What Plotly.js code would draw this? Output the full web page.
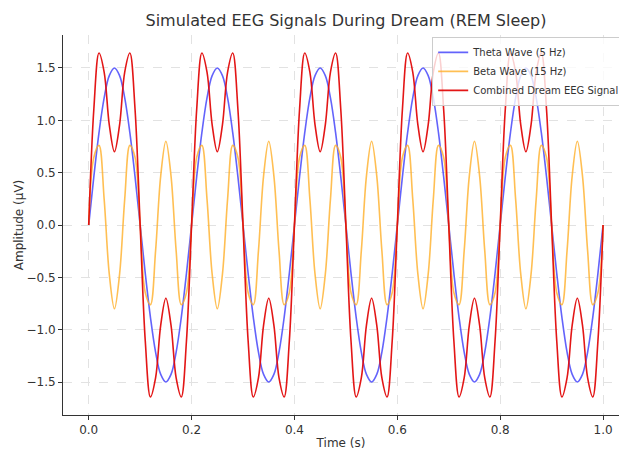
<!DOCTYPE html>
<html>
<head>
<meta charset="utf-8">
<script src="https://cdn.plot.ly/plotly-3.0.1.min.js"></script>
<style>html,body{margin:0;padding:0;background:#fff;}#chart{width:619px;height:453px;}</style>
</head>
<body>
<div id="chart"></div>
<script>
const time = [
0.00,0.01,0.02,0.03,0.04,0.05,0.06,0.07,0.08,0.09,0.10,0.11,0.12,0.13,0.14,0.15,0.16,0.17,0.18,0.19,
0.20,0.21,0.22,0.23,0.24,0.25,0.26,0.27,0.28,0.29,0.30,0.31,0.32,0.33,0.34,0.35,0.36,0.37,0.38,0.39,
0.40,0.41,0.42,0.43,0.44,0.45,0.46,0.47,0.48,0.49,0.50,0.51,0.52,0.53,0.54,0.55,0.56,0.57,0.58,0.59,
0.60,0.61,0.62,0.63,0.64,0.65,0.66,0.67,0.68,0.69,0.70,0.71,0.72,0.73,0.74,0.75,0.76,0.77,0.78,0.79,
0.80,0.81,0.82,0.83,0.84,0.85,0.86,0.87,0.88,0.89,0.90,0.91,0.92,0.93,0.94,0.95,0.96,0.97,0.98,0.99,
1.00];
const thetaWave = [
0,0.464,0.882,1.214,1.427,1.5,1.427,1.214,0.882,0.464,0,-0.464,-0.882,-1.214,-1.427,-1.5,-1.427,-1.214,-0.882,-0.464,
0,0.464,0.882,1.214,1.427,1.5,1.427,1.214,0.882,0.464,0,-0.464,-0.882,-1.214,-1.427,-1.5,-1.427,-1.214,-0.882,-0.464,
0,0.464,0.882,1.214,1.427,1.5,1.427,1.214,0.882,0.464,0,-0.464,-0.882,-1.214,-1.427,-1.5,-1.427,-1.214,-0.882,-0.464,
0,0.464,0.882,1.214,1.427,1.5,1.427,1.214,0.882,0.464,0,-0.464,-0.882,-1.214,-1.427,-1.5,-1.427,-1.214,-0.882,-0.464,
0,0.464,0.882,1.214,1.427,1.5,1.427,1.214,0.882,0.464,0,-0.464,-0.882,-1.214,-1.427,-1.5,-1.427,-1.214,-0.882,-0.464,
0];
const betaWave = [
0,0.647,0.761,0.247,-0.47,-0.8,-0.47,0.247,0.761,0.647,0,-0.647,-0.761,-0.247,0.47,0.8,0.47,-0.247,-0.761,-0.647,
0,0.647,0.761,0.247,-0.47,-0.8,-0.47,0.247,0.761,0.647,0,-0.647,-0.761,-0.247,0.47,0.8,0.47,-0.247,-0.761,-0.647,
0,0.647,0.761,0.247,-0.47,-0.8,-0.47,0.247,0.761,0.647,0,-0.647,-0.761,-0.247,0.47,0.8,0.47,-0.247,-0.761,-0.647,
0,0.647,0.761,0.247,-0.47,-0.8,-0.47,0.247,0.761,0.647,0,-0.647,-0.761,-0.247,0.47,0.8,0.47,-0.247,-0.761,-0.647,
0,0.647,0.761,0.247,-0.47,-0.8,-0.47,0.247,0.761,0.647,0,-0.647,-0.761,-0.247,0.47,0.8,0.47,-0.247,-0.761,-0.647,
0];
const combinedSignal = [
0,1.111,1.643,1.461,0.957,0.7,0.957,1.461,1.643,1.111,0,-1.111,-1.643,-1.461,-0.957,-0.7,-0.957,-1.461,-1.643,-1.111,
0,1.111,1.643,1.461,0.957,0.7,0.957,1.461,1.643,1.111,0,-1.111,-1.643,-1.461,-0.957,-0.7,-0.957,-1.461,-1.643,-1.111,
0,1.111,1.643,1.461,0.957,0.7,0.957,1.461,1.643,1.111,0,-1.111,-1.643,-1.461,-0.957,-0.7,-0.957,-1.461,-1.643,-1.111,
0,1.111,1.643,1.461,0.957,0.7,0.957,1.461,1.643,1.111,0,-1.111,-1.643,-1.461,-0.957,-0.7,-0.957,-1.461,-1.643,-1.111,
0,1.111,1.643,1.461,0.957,0.7,0.957,1.461,1.643,1.111,0,-1.111,-1.643,-1.461,-0.957,-0.7,-0.957,-1.461,-1.643,-1.111,
0];
const seriesNames = ["Theta Wave (5 Hz)", "Beta Wave (15 Hz)", "Combined Dream EEG Signal"];
const xTicks = [0, 0.2, 0.4, 0.6, 0.8, 1.0];
const xTickLabels = ["0.0", "0.2", "0.4", "0.6", "0.8", "1.0"];
const yTicks = [-1.5, -1.0, -0.5, 0, 0.5, 1.0, 1.5];
const yTickLabels = ["\u22121.5", "\u22121.0", "\u22120.5", "0.0", "0.5", "1.0", "1.5"];

const FONT = "DejaVu Sans, sans-serif";
const traces = [
  {x: time, y: thetaWave, name: seriesNames[0], mode: "lines",
   line: {color: "rgba(60,60,250,0.8)", width: 1.6, shape: "spline", smoothing: 1}},
  {x: time, y: betaWave, name: seriesNames[1], mode: "lines",
   line: {color: "rgba(255,175,40,0.8)", width: 1.6, shape: "spline", smoothing: 1}},
  {x: time, y: combinedSignal, name: seriesNames[2], mode: "lines",
   line: {color: "rgba(225,10,10,0.95)", width: 1.6, shape: "spline", smoothing: 1}}
];
const layout = {
  width: 619, height: 453,
  margin: {l: 63, r: 0, t: 35, b: 38, autoexpand: false},
  paper_bgcolor: "#fff", plot_bgcolor: "#fff",
  font: {family: FONT, color: "#333", size: 12},
  title: {text: "Simulated EEG Signals During Dream (REM Sleep)", font: {size: 16, color: "#333", family: FONT},
          x: 0.509, xref: "paper", xanchor: "center", y: 0.955, yref: "container", yanchor: "middle"},
  xaxis: {range: [-0.05, 1.031], tickvals: xTicks, ticktext: xTickLabels, automargin: false,
          showline: true, linecolor: "#333", linewidth: 1, ticks: "outside", ticklen: 4, tickcolor: "#333",
          showgrid: true, gridcolor: "#e2e2e2", griddash: "dash", gridwidth: 1, zeroline: false,
          tickfont: {size: 12, color: "#333"},
          title: {text: "Time (s)", font: {size: 12, color: "#333"}, standoff: 2}},
  yaxis: {range: [-1.815, 1.815], tickvals: yTicks, ticktext: yTickLabels, automargin: false,
          showline: true, linecolor: "#333", linewidth: 1, ticks: "outside", ticklen: 4, tickcolor: "#333",
          showgrid: true, gridcolor: "#e2e2e2", griddash: "dash", gridwidth: 1, zeroline: false,
          tickfont: {size: 12, color: "#333"},
          title: {text: "Amplitude (\u00b5V)", font: {size: 12, color: "#333"}, standoff: 0}},
  showlegend: true,
  legend: {x: 0.664, y: 0.995, xanchor: "left", yanchor: "top", bgcolor: "rgba(255,255,255,0.8)",
           bordercolor: "#cccccc", borderwidth: 1, font: {size: 10, color: "#333"}, tracegroupgap: 0}
};
Plotly.newPlot("chart", traces, layout, {staticPlot: true, displayModeBar: false});
</script>
</body>
</html>
